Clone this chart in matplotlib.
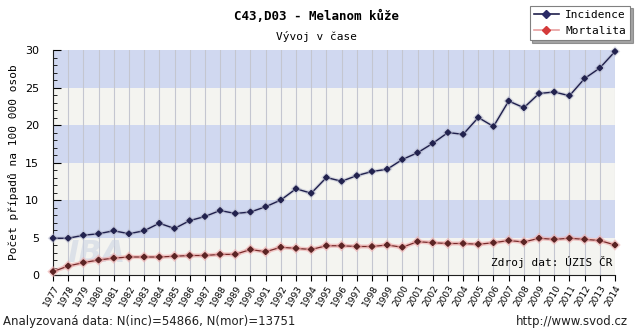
import matplotlib
matplotlib.use('Agg')
import matplotlib.pyplot as plt
from matplotlib.lines import Line2D
import matplotlib.patheffects as pe
import numpy as np

# -------------------------------------------------------------------
# data
years = list(range(1977, 2015))
incidence = [4.9, 4.9, 5.3, 5.5, 5.9, 5.5, 5.9, 6.9, 6.2, 7.25,
             7.8, 8.6, 8.2, 8.4, 9.1, 10.0, 11.5, 10.9, 13.0, 12.5,
             13.25, 13.8, 14.1, 15.4, 16.3, 17.55, 19.0, 18.75, 21.0, 19.8,
             23.2, 22.3, 24.2, 24.4, 23.9, 26.2, 27.6, 29.8]
mortalita = [0.45, 1.2, 1.65, 2.0, 2.25, 2.4, 2.4, 2.4, 2.5, 2.6,
             2.6, 2.75, 2.75, 3.4, 3.1, 3.7, 3.55, 3.4, 3.9, 3.9,
             3.8, 3.8, 4.0, 3.7, 4.45, 4.3, 4.2, 4.2, 4.1, 4.3,
             4.6, 4.4, 4.9, 4.75, 4.9, 4.75, 4.6, 4.0]

title = 'C43,D03 - Melanom kůže'
subtitle = 'Vývoj v čase'
ylabel = 'Počet případů na 100 000 osob'
source = 'Zdroj dat: ÚZIS ČR'
footer_left = 'Analyzovaná data: N(inc)=54866, N(mor)=13751'
footer_right = 'http://www.svod.cz'

mono = 'DejaVu Sans Mono'

# -------------------------------------------------------------------
fig = plt.figure(figsize=(6.36, 3.30), dpi=100)
ax = fig.add_axes([53/636, 55/330, 562/636, 225/330])

# alternating background bands
blue = '#d0d8f0'
light = '#f4f4f0'
for k in range(6):
    ax.axhspan(5*k, 5*(k+1), color=blue if k % 2 else light, zorder=0, lw=0)

# vertical grid at every year
for yr in years:
    ax.axvline(yr, color='#c4c6d0', lw=0.8, zorder=1)

# watermark
ax.text(0.025, 0.06, 'IBA', transform=ax.transAxes, fontsize=22,
        fontweight='bold', style='italic', color='#cdd5e4', alpha=0.6,
        zorder=1.5)

# lines with a soft halo
ax.plot(years, incidence, color='#1f1f4c', lw=1.0, marker='D', ms=2.8,
        mfc='#22224e', mec='#22224e', zorder=4, clip_on=False,
        path_effects=[pe.Stroke(linewidth=2.6, foreground='#b4b7cc', alpha=0.5),
                      pe.Normal()])
ax.plot(years, mortalita, color='#7a2a2a', lw=0.9, marker='D', ms=2.8,
        mfc='#5c2424', mec='#5c2424', zorder=4, clip_on=False,
        path_effects=[pe.Stroke(linewidth=3, foreground='#eeaaaa', alpha=0.6),
                      pe.Normal()])

ax.set_xlim(1977, 2014)
ax.set_ylim(0, 30)

# axes and ticks
for s in ['top', 'right']:
    ax.spines[s].set_visible(False)
ax.spines['left'].set_color('#202020')
ax.spines['bottom'].set_color('#202020')
ax.set_yticks(range(0, 31, 5))
ax.set_yticks(range(0, 31), minor=True)
ax.tick_params(axis='y', which='major', direction='in', length=6,
               labelsize=8, pad=10)
ax.tick_params(axis='y', which='minor', direction='in', length=3)
ax.set_xticks(years)
ax.set_xticklabels([str(y) for y in years], rotation=60, ha='right',
                   rotation_mode='anchor', fontsize=6.5)
ax.tick_params(axis='x', direction='out', length=4, pad=2)

ax.set_ylabel(ylabel, fontfamily=mono, fontsize=8, labelpad=4)

ax.text(0.995, 0.03, source, transform=ax.transAxes, ha='right',
        va='bottom', fontfamily=mono, fontsize=8, zorder=5)

# titles
fig.text(317/636, 1 - 16/330, title, ha='center', va='center',
         fontfamily=mono, fontweight='bold', fontsize=9)
fig.text(317/636, 1 - 37/330, subtitle, ha='center', va='center',
         fontfamily=mono, fontsize=8)

# legend
handles = [Line2D([], [], color='#1f1f4c', marker='D', ms=4, lw=1.2,
                  mfc='#2a2a66', mec='#2a2a66'),
           Line2D([], [], color='#e8a0a0', marker='D', ms=4, lw=1.2,
                  mfc='#d43a3a', mec='#d43a3a')]
leg = fig.legend(handles, ['Incidence', 'Mortalita'], loc='upper right',
                 bbox_to_anchor=(1.0, 1.0), prop={'family': mono, 'size': 8},
                 frameon=True, fancybox=False, shadow=True, handlelength=2.2,
                 borderpad=0.4, labelspacing=0.5, handletextpad=0.6)
leg.get_frame().set_edgecolor('#808080')
leg.get_frame().set_linewidth(0.8)

# footer
fig.text(3/636, 1 - 322/330, footer_left, ha='left', va='center',
         fontsize=8.5, color='#202020')
fig.text(628/636, 1 - 322/330, footer_right, ha='right', va='center',
         fontsize=8.5, color='#202020')

fig.savefig('out.png', dpi=100)
